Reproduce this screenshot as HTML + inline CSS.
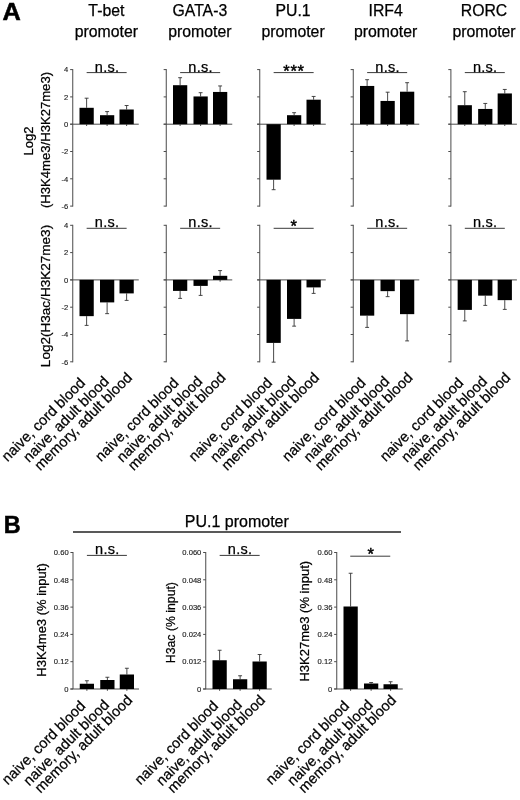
<!DOCTYPE html>
<html><head><meta charset="utf-8"><title>Figure</title>
<style>
html,body{margin:0;padding:0;background:#fff;}
svg{display:block;font-family:'Liberation Sans', sans-serif;}
</style></head>
<body>
<svg width="520" height="800" viewBox="0 0 520 800">
<rect x="0" y="0" width="520" height="800" fill="#ffffff"/>
<text transform="translate(2.60 19.50) scale(1.1 1)" font-size="23" text-anchor="start" font-weight="bold" fill="#000" stroke="#000" stroke-width="0.5">A</text>
<text transform="translate(106.35 16.00)" font-size="15.8" text-anchor="middle" fill="#000" stroke="#000" stroke-width="0.25">T-bet</text>
<text transform="translate(106.35 37.40)" font-size="15.8" text-anchor="middle" fill="#000" stroke="#000" stroke-width="0.25">promoter</text>
<line x1="72.75" y1="69.10" x2="72.75" y2="206.60" stroke="#4a4a4a" stroke-width="1"/>
<line x1="70.15" y1="69.60" x2="72.75" y2="69.60" stroke="#4a4a4a" stroke-width="1"/>
<text transform="translate(68.35 72.30)" font-size="7.6" text-anchor="end" fill="#222" stroke="#222" stroke-width="0.15">4</text>
<line x1="70.15" y1="96.90" x2="72.75" y2="96.90" stroke="#4a4a4a" stroke-width="1"/>
<text transform="translate(68.35 99.60)" font-size="7.6" text-anchor="end" fill="#222" stroke="#222" stroke-width="0.15">2</text>
<line x1="70.15" y1="124.20" x2="72.75" y2="124.20" stroke="#4a4a4a" stroke-width="1"/>
<text transform="translate(68.35 126.90)" font-size="7.6" text-anchor="end" fill="#222" stroke="#222" stroke-width="0.15">0</text>
<line x1="70.15" y1="151.50" x2="72.75" y2="151.50" stroke="#4a4a4a" stroke-width="1"/>
<text transform="translate(68.35 154.20)" font-size="7.6" text-anchor="end" fill="#222" stroke="#222" stroke-width="0.15">-2</text>
<line x1="70.15" y1="178.80" x2="72.75" y2="178.80" stroke="#4a4a4a" stroke-width="1"/>
<text transform="translate(68.35 181.50)" font-size="7.6" text-anchor="end" fill="#222" stroke="#222" stroke-width="0.15">-4</text>
<line x1="70.15" y1="206.10" x2="72.75" y2="206.10" stroke="#4a4a4a" stroke-width="1"/>
<text transform="translate(68.35 208.80)" font-size="7.6" text-anchor="end" fill="#222" stroke="#222" stroke-width="0.15">-6</text>
<line x1="70.15" y1="124.20" x2="138.75" y2="124.20" stroke="#4a4a4a" stroke-width="1"/>
<line x1="86.62" y1="107.80" x2="86.62" y2="98.20" stroke="#333" stroke-width="0.9"/>
<line x1="84.67" y1="98.20" x2="88.58" y2="98.20" stroke="#333" stroke-width="0.9"/>
<rect x="79.50" y="107.80" width="14.25" height="16.40" fill="#000"/>
<line x1="86.62" y1="124.20" x2="86.62" y2="126.00" stroke="#333" stroke-width="0.9"/>
<line x1="107.12" y1="115.20" x2="107.12" y2="111.60" stroke="#333" stroke-width="0.9"/>
<line x1="105.17" y1="111.60" x2="109.08" y2="111.60" stroke="#333" stroke-width="0.9"/>
<rect x="100.00" y="115.20" width="14.25" height="9.00" fill="#000"/>
<line x1="107.12" y1="124.20" x2="107.12" y2="126.00" stroke="#333" stroke-width="0.9"/>
<line x1="126.62" y1="109.50" x2="126.62" y2="105.50" stroke="#333" stroke-width="0.9"/>
<line x1="124.67" y1="105.50" x2="128.57" y2="105.50" stroke="#333" stroke-width="0.9"/>
<rect x="119.50" y="109.50" width="14.25" height="14.70" fill="#000"/>
<line x1="126.62" y1="124.20" x2="126.62" y2="126.00" stroke="#333" stroke-width="0.9"/>
<line x1="86.65" y1="72.60" x2="126.65" y2="72.60" stroke="#3a3a3a" stroke-width="1.0"/>
<text transform="translate(107.05 71.70)" font-size="14.5" text-anchor="middle" fill="#000" stroke="#000" stroke-width="0.25" letter-spacing="0.25">n.s.</text>
<line x1="72.75" y1="224.80" x2="72.75" y2="362.30" stroke="#4a4a4a" stroke-width="1"/>
<line x1="70.15" y1="225.30" x2="72.75" y2="225.30" stroke="#4a4a4a" stroke-width="1"/>
<text transform="translate(68.35 228.00)" font-size="7.6" text-anchor="end" fill="#222" stroke="#222" stroke-width="0.15">4</text>
<line x1="70.15" y1="252.60" x2="72.75" y2="252.60" stroke="#4a4a4a" stroke-width="1"/>
<text transform="translate(68.35 255.30)" font-size="7.6" text-anchor="end" fill="#222" stroke="#222" stroke-width="0.15">2</text>
<line x1="70.15" y1="279.90" x2="72.75" y2="279.90" stroke="#4a4a4a" stroke-width="1"/>
<text transform="translate(68.35 282.60)" font-size="7.6" text-anchor="end" fill="#222" stroke="#222" stroke-width="0.15">0</text>
<line x1="70.15" y1="307.20" x2="72.75" y2="307.20" stroke="#4a4a4a" stroke-width="1"/>
<text transform="translate(68.35 309.90)" font-size="7.6" text-anchor="end" fill="#222" stroke="#222" stroke-width="0.15">-2</text>
<line x1="70.15" y1="334.50" x2="72.75" y2="334.50" stroke="#4a4a4a" stroke-width="1"/>
<text transform="translate(68.35 337.20)" font-size="7.6" text-anchor="end" fill="#222" stroke="#222" stroke-width="0.15">-4</text>
<line x1="70.15" y1="361.80" x2="72.75" y2="361.80" stroke="#4a4a4a" stroke-width="1"/>
<text transform="translate(68.35 364.50)" font-size="7.6" text-anchor="end" fill="#222" stroke="#222" stroke-width="0.15">-6</text>
<line x1="70.15" y1="279.90" x2="138.75" y2="279.90" stroke="#4a4a4a" stroke-width="1"/>
<line x1="86.62" y1="316.15" x2="86.62" y2="325.40" stroke="#333" stroke-width="0.9"/>
<line x1="84.67" y1="325.40" x2="88.58" y2="325.40" stroke="#333" stroke-width="0.9"/>
<rect x="79.50" y="279.90" width="14.25" height="36.25" fill="#000"/>
<line x1="107.12" y1="302.40" x2="107.12" y2="313.65" stroke="#333" stroke-width="0.9"/>
<line x1="105.17" y1="313.65" x2="109.08" y2="313.65" stroke="#333" stroke-width="0.9"/>
<rect x="100.00" y="279.90" width="14.25" height="22.50" fill="#000"/>
<line x1="126.62" y1="293.40" x2="126.62" y2="300.40" stroke="#333" stroke-width="0.9"/>
<line x1="124.67" y1="300.40" x2="128.57" y2="300.40" stroke="#333" stroke-width="0.9"/>
<rect x="119.50" y="279.90" width="14.25" height="13.50" fill="#000"/>
<line x1="86.65" y1="228.30" x2="126.65" y2="228.30" stroke="#3a3a3a" stroke-width="1.0"/>
<text transform="translate(107.05 227.40)" font-size="14.5" text-anchor="middle" fill="#000" stroke="#000" stroke-width="0.25" letter-spacing="0.25">n.s.</text>
<text transform="translate(86.10 383.70) rotate(-45)" font-size="14.6" text-anchor="end" fill="#000" stroke="#000" stroke-width="0.25">naive, cord blood</text>
<text transform="translate(109.80 382.20) rotate(-45)" font-size="14.6" text-anchor="end" fill="#000" stroke="#000" stroke-width="0.25">naive, adult blood</text>
<text transform="translate(133.00 378.60) rotate(-45)" font-size="14.6" text-anchor="end" fill="#000" stroke="#000" stroke-width="0.25">memory, adult blood</text>
<text transform="translate(199.85 16.00)" font-size="15.8" text-anchor="middle" fill="#000" stroke="#000" stroke-width="0.25">GATA-3</text>
<text transform="translate(199.85 37.40)" font-size="15.8" text-anchor="middle" fill="#000" stroke="#000" stroke-width="0.25">promoter</text>
<line x1="166.25" y1="69.10" x2="166.25" y2="206.60" stroke="#4a4a4a" stroke-width="1"/>
<line x1="163.65" y1="69.60" x2="166.25" y2="69.60" stroke="#4a4a4a" stroke-width="1"/>
<line x1="163.65" y1="96.90" x2="166.25" y2="96.90" stroke="#4a4a4a" stroke-width="1"/>
<line x1="163.65" y1="124.20" x2="166.25" y2="124.20" stroke="#4a4a4a" stroke-width="1"/>
<line x1="163.65" y1="151.50" x2="166.25" y2="151.50" stroke="#4a4a4a" stroke-width="1"/>
<line x1="163.65" y1="178.80" x2="166.25" y2="178.80" stroke="#4a4a4a" stroke-width="1"/>
<line x1="163.65" y1="206.10" x2="166.25" y2="206.10" stroke="#4a4a4a" stroke-width="1"/>
<line x1="163.65" y1="124.20" x2="232.25" y2="124.20" stroke="#4a4a4a" stroke-width="1"/>
<line x1="180.12" y1="85.20" x2="180.12" y2="77.70" stroke="#333" stroke-width="0.9"/>
<line x1="178.18" y1="77.70" x2="182.07" y2="77.70" stroke="#333" stroke-width="0.9"/>
<rect x="173.00" y="85.20" width="14.25" height="39.00" fill="#000"/>
<line x1="180.12" y1="124.20" x2="180.12" y2="126.00" stroke="#333" stroke-width="0.9"/>
<line x1="200.62" y1="96.45" x2="200.62" y2="92.70" stroke="#333" stroke-width="0.9"/>
<line x1="198.68" y1="92.70" x2="202.57" y2="92.70" stroke="#333" stroke-width="0.9"/>
<rect x="193.50" y="96.45" width="14.25" height="27.75" fill="#000"/>
<line x1="200.62" y1="124.20" x2="200.62" y2="126.00" stroke="#333" stroke-width="0.9"/>
<line x1="220.12" y1="91.95" x2="220.12" y2="85.95" stroke="#333" stroke-width="0.9"/>
<line x1="218.18" y1="85.95" x2="222.07" y2="85.95" stroke="#333" stroke-width="0.9"/>
<rect x="213.00" y="91.95" width="14.25" height="32.25" fill="#000"/>
<line x1="220.12" y1="124.20" x2="220.12" y2="126.00" stroke="#333" stroke-width="0.9"/>
<line x1="180.15" y1="72.60" x2="220.15" y2="72.60" stroke="#3a3a3a" stroke-width="1.0"/>
<text transform="translate(200.55 71.70)" font-size="14.5" text-anchor="middle" fill="#000" stroke="#000" stroke-width="0.25" letter-spacing="0.25">n.s.</text>
<line x1="166.25" y1="224.80" x2="166.25" y2="362.30" stroke="#4a4a4a" stroke-width="1"/>
<line x1="163.65" y1="225.30" x2="166.25" y2="225.30" stroke="#4a4a4a" stroke-width="1"/>
<line x1="163.65" y1="252.60" x2="166.25" y2="252.60" stroke="#4a4a4a" stroke-width="1"/>
<line x1="163.65" y1="279.90" x2="166.25" y2="279.90" stroke="#4a4a4a" stroke-width="1"/>
<line x1="163.65" y1="307.20" x2="166.25" y2="307.20" stroke="#4a4a4a" stroke-width="1"/>
<line x1="163.65" y1="334.50" x2="166.25" y2="334.50" stroke="#4a4a4a" stroke-width="1"/>
<line x1="163.65" y1="361.80" x2="166.25" y2="361.80" stroke="#4a4a4a" stroke-width="1"/>
<line x1="163.65" y1="279.90" x2="232.25" y2="279.90" stroke="#4a4a4a" stroke-width="1"/>
<line x1="180.12" y1="290.90" x2="180.12" y2="298.40" stroke="#333" stroke-width="0.9"/>
<line x1="178.18" y1="298.40" x2="182.07" y2="298.40" stroke="#333" stroke-width="0.9"/>
<rect x="173.00" y="279.90" width="14.25" height="11.00" fill="#000"/>
<line x1="200.62" y1="285.90" x2="200.62" y2="295.40" stroke="#333" stroke-width="0.9"/>
<line x1="198.68" y1="295.40" x2="202.57" y2="295.40" stroke="#333" stroke-width="0.9"/>
<rect x="193.50" y="279.90" width="14.25" height="6.00" fill="#000"/>
<line x1="220.12" y1="275.80" x2="220.12" y2="270.60" stroke="#333" stroke-width="0.9"/>
<line x1="218.18" y1="270.60" x2="222.07" y2="270.60" stroke="#333" stroke-width="0.9"/>
<rect x="213.00" y="275.80" width="14.25" height="4.10" fill="#000"/>
<line x1="220.12" y1="279.90" x2="220.12" y2="281.70" stroke="#333" stroke-width="0.9"/>
<line x1="180.15" y1="228.30" x2="220.15" y2="228.30" stroke="#3a3a3a" stroke-width="1.0"/>
<text transform="translate(200.55 227.40)" font-size="14.5" text-anchor="middle" fill="#000" stroke="#000" stroke-width="0.25" letter-spacing="0.25">n.s.</text>
<text transform="translate(179.60 383.70) rotate(-45)" font-size="14.6" text-anchor="end" fill="#000" stroke="#000" stroke-width="0.25">naive, cord blood</text>
<text transform="translate(203.30 382.20) rotate(-45)" font-size="14.6" text-anchor="end" fill="#000" stroke="#000" stroke-width="0.25">naive, adult blood</text>
<text transform="translate(226.50 378.60) rotate(-45)" font-size="14.6" text-anchor="end" fill="#000" stroke="#000" stroke-width="0.25">memory, adult blood</text>
<text transform="translate(293.05 16.00)" font-size="15.8" text-anchor="middle" fill="#000" stroke="#000" stroke-width="0.25">PU.1</text>
<text transform="translate(293.05 37.40)" font-size="15.8" text-anchor="middle" fill="#000" stroke="#000" stroke-width="0.25">promoter</text>
<line x1="259.75" y1="69.10" x2="259.75" y2="206.60" stroke="#4a4a4a" stroke-width="1"/>
<line x1="257.15" y1="69.60" x2="259.75" y2="69.60" stroke="#4a4a4a" stroke-width="1"/>
<line x1="257.15" y1="96.90" x2="259.75" y2="96.90" stroke="#4a4a4a" stroke-width="1"/>
<line x1="257.15" y1="124.20" x2="259.75" y2="124.20" stroke="#4a4a4a" stroke-width="1"/>
<line x1="257.15" y1="151.50" x2="259.75" y2="151.50" stroke="#4a4a4a" stroke-width="1"/>
<line x1="257.15" y1="178.80" x2="259.75" y2="178.80" stroke="#4a4a4a" stroke-width="1"/>
<line x1="257.15" y1="206.10" x2="259.75" y2="206.10" stroke="#4a4a4a" stroke-width="1"/>
<line x1="257.15" y1="124.20" x2="325.75" y2="124.20" stroke="#4a4a4a" stroke-width="1"/>
<line x1="273.62" y1="179.70" x2="273.62" y2="189.70" stroke="#333" stroke-width="0.9"/>
<line x1="271.68" y1="189.70" x2="275.57" y2="189.70" stroke="#333" stroke-width="0.9"/>
<rect x="266.50" y="124.20" width="14.25" height="55.50" fill="#000"/>
<line x1="294.12" y1="115.20" x2="294.12" y2="112.70" stroke="#333" stroke-width="0.9"/>
<line x1="292.18" y1="112.70" x2="296.07" y2="112.70" stroke="#333" stroke-width="0.9"/>
<rect x="287.00" y="115.20" width="14.25" height="9.00" fill="#000"/>
<line x1="294.12" y1="124.20" x2="294.12" y2="126.00" stroke="#333" stroke-width="0.9"/>
<line x1="313.62" y1="99.70" x2="313.62" y2="96.45" stroke="#333" stroke-width="0.9"/>
<line x1="311.68" y1="96.45" x2="315.57" y2="96.45" stroke="#333" stroke-width="0.9"/>
<rect x="306.50" y="99.70" width="14.25" height="24.50" fill="#000"/>
<line x1="313.62" y1="124.20" x2="313.62" y2="126.00" stroke="#333" stroke-width="0.9"/>
<line x1="273.65" y1="72.60" x2="313.65" y2="72.60" stroke="#3a3a3a" stroke-width="1.0"/>
<text transform="translate(294.00 76.60)" font-size="16.5" text-anchor="middle" fill="#000" stroke="#000" stroke-width="0.45" letter-spacing="0.7">***</text>
<line x1="259.75" y1="224.80" x2="259.75" y2="362.30" stroke="#4a4a4a" stroke-width="1"/>
<line x1="257.15" y1="225.30" x2="259.75" y2="225.30" stroke="#4a4a4a" stroke-width="1"/>
<line x1="257.15" y1="252.60" x2="259.75" y2="252.60" stroke="#4a4a4a" stroke-width="1"/>
<line x1="257.15" y1="279.90" x2="259.75" y2="279.90" stroke="#4a4a4a" stroke-width="1"/>
<line x1="257.15" y1="307.20" x2="259.75" y2="307.20" stroke="#4a4a4a" stroke-width="1"/>
<line x1="257.15" y1="334.50" x2="259.75" y2="334.50" stroke="#4a4a4a" stroke-width="1"/>
<line x1="257.15" y1="361.80" x2="259.75" y2="361.80" stroke="#4a4a4a" stroke-width="1"/>
<line x1="257.15" y1="279.90" x2="325.75" y2="279.90" stroke="#4a4a4a" stroke-width="1"/>
<line x1="273.62" y1="342.90" x2="273.62" y2="362.15" stroke="#333" stroke-width="0.9"/>
<line x1="271.68" y1="362.15" x2="275.57" y2="362.15" stroke="#333" stroke-width="0.9"/>
<rect x="266.50" y="279.90" width="14.25" height="63.00" fill="#000"/>
<line x1="294.12" y1="318.90" x2="294.12" y2="326.15" stroke="#333" stroke-width="0.9"/>
<line x1="292.18" y1="326.15" x2="296.07" y2="326.15" stroke="#333" stroke-width="0.9"/>
<rect x="287.00" y="279.90" width="14.25" height="39.00" fill="#000"/>
<line x1="313.62" y1="287.40" x2="313.62" y2="293.40" stroke="#333" stroke-width="0.9"/>
<line x1="311.68" y1="293.40" x2="315.57" y2="293.40" stroke="#333" stroke-width="0.9"/>
<rect x="306.50" y="279.90" width="14.25" height="7.50" fill="#000"/>
<line x1="273.65" y1="228.30" x2="313.65" y2="228.30" stroke="#3a3a3a" stroke-width="1.0"/>
<text transform="translate(294.00 232.30)" font-size="16.5" text-anchor="middle" fill="#000" stroke="#000" stroke-width="0.45" letter-spacing="0.7">*</text>
<text transform="translate(273.10 383.70) rotate(-45)" font-size="14.6" text-anchor="end" fill="#000" stroke="#000" stroke-width="0.25">naive, cord blood</text>
<text transform="translate(296.80 382.20) rotate(-45)" font-size="14.6" text-anchor="end" fill="#000" stroke="#000" stroke-width="0.25">naive, adult blood</text>
<text transform="translate(320.00 378.60) rotate(-45)" font-size="14.6" text-anchor="end" fill="#000" stroke="#000" stroke-width="0.25">memory, adult blood</text>
<text transform="translate(385.65 16.00)" font-size="15.8" text-anchor="middle" fill="#000" stroke="#000" stroke-width="0.25">IRF4</text>
<text transform="translate(385.65 37.40)" font-size="15.8" text-anchor="middle" fill="#000" stroke="#000" stroke-width="0.25">promoter</text>
<line x1="353.25" y1="69.10" x2="353.25" y2="206.60" stroke="#4a4a4a" stroke-width="1"/>
<line x1="350.65" y1="69.60" x2="353.25" y2="69.60" stroke="#4a4a4a" stroke-width="1"/>
<line x1="350.65" y1="96.90" x2="353.25" y2="96.90" stroke="#4a4a4a" stroke-width="1"/>
<line x1="350.65" y1="124.20" x2="353.25" y2="124.20" stroke="#4a4a4a" stroke-width="1"/>
<line x1="350.65" y1="151.50" x2="353.25" y2="151.50" stroke="#4a4a4a" stroke-width="1"/>
<line x1="350.65" y1="178.80" x2="353.25" y2="178.80" stroke="#4a4a4a" stroke-width="1"/>
<line x1="350.65" y1="206.10" x2="353.25" y2="206.10" stroke="#4a4a4a" stroke-width="1"/>
<line x1="350.65" y1="124.20" x2="419.25" y2="124.20" stroke="#4a4a4a" stroke-width="1"/>
<line x1="367.12" y1="85.95" x2="367.12" y2="79.70" stroke="#333" stroke-width="0.9"/>
<line x1="365.18" y1="79.70" x2="369.07" y2="79.70" stroke="#333" stroke-width="0.9"/>
<rect x="360.00" y="85.95" width="14.25" height="38.25" fill="#000"/>
<line x1="367.12" y1="124.20" x2="367.12" y2="126.00" stroke="#333" stroke-width="0.9"/>
<line x1="387.62" y1="100.95" x2="387.62" y2="92.20" stroke="#333" stroke-width="0.9"/>
<line x1="385.68" y1="92.20" x2="389.57" y2="92.20" stroke="#333" stroke-width="0.9"/>
<rect x="380.50" y="100.95" width="14.25" height="23.25" fill="#000"/>
<line x1="387.62" y1="124.20" x2="387.62" y2="126.00" stroke="#333" stroke-width="0.9"/>
<line x1="407.12" y1="91.70" x2="407.12" y2="82.70" stroke="#333" stroke-width="0.9"/>
<line x1="405.18" y1="82.70" x2="409.07" y2="82.70" stroke="#333" stroke-width="0.9"/>
<rect x="400.00" y="91.70" width="14.25" height="32.50" fill="#000"/>
<line x1="407.12" y1="124.20" x2="407.12" y2="126.00" stroke="#333" stroke-width="0.9"/>
<line x1="367.15" y1="72.60" x2="407.15" y2="72.60" stroke="#3a3a3a" stroke-width="1.0"/>
<text transform="translate(387.55 71.70)" font-size="14.5" text-anchor="middle" fill="#000" stroke="#000" stroke-width="0.25" letter-spacing="0.25">n.s.</text>
<line x1="353.25" y1="224.80" x2="353.25" y2="362.30" stroke="#4a4a4a" stroke-width="1"/>
<line x1="350.65" y1="225.30" x2="353.25" y2="225.30" stroke="#4a4a4a" stroke-width="1"/>
<line x1="350.65" y1="252.60" x2="353.25" y2="252.60" stroke="#4a4a4a" stroke-width="1"/>
<line x1="350.65" y1="279.90" x2="353.25" y2="279.90" stroke="#4a4a4a" stroke-width="1"/>
<line x1="350.65" y1="307.20" x2="353.25" y2="307.20" stroke="#4a4a4a" stroke-width="1"/>
<line x1="350.65" y1="334.50" x2="353.25" y2="334.50" stroke="#4a4a4a" stroke-width="1"/>
<line x1="350.65" y1="361.80" x2="353.25" y2="361.80" stroke="#4a4a4a" stroke-width="1"/>
<line x1="350.65" y1="279.90" x2="419.25" y2="279.90" stroke="#4a4a4a" stroke-width="1"/>
<line x1="367.12" y1="315.65" x2="367.12" y2="327.40" stroke="#333" stroke-width="0.9"/>
<line x1="365.18" y1="327.40" x2="369.07" y2="327.40" stroke="#333" stroke-width="0.9"/>
<rect x="360.00" y="279.90" width="14.25" height="35.75" fill="#000"/>
<line x1="387.62" y1="291.15" x2="387.62" y2="296.65" stroke="#333" stroke-width="0.9"/>
<line x1="385.68" y1="296.65" x2="389.57" y2="296.65" stroke="#333" stroke-width="0.9"/>
<rect x="380.50" y="279.90" width="14.25" height="11.25" fill="#000"/>
<line x1="407.12" y1="314.15" x2="407.12" y2="340.90" stroke="#333" stroke-width="0.9"/>
<line x1="405.18" y1="340.90" x2="409.07" y2="340.90" stroke="#333" stroke-width="0.9"/>
<rect x="400.00" y="279.90" width="14.25" height="34.25" fill="#000"/>
<line x1="367.15" y1="228.30" x2="407.15" y2="228.30" stroke="#3a3a3a" stroke-width="1.0"/>
<text transform="translate(387.55 227.40)" font-size="14.5" text-anchor="middle" fill="#000" stroke="#000" stroke-width="0.25" letter-spacing="0.25">n.s.</text>
<text transform="translate(366.60 383.70) rotate(-45)" font-size="14.6" text-anchor="end" fill="#000" stroke="#000" stroke-width="0.25">naive, cord blood</text>
<text transform="translate(390.30 382.20) rotate(-45)" font-size="14.6" text-anchor="end" fill="#000" stroke="#000" stroke-width="0.25">naive, adult blood</text>
<text transform="translate(413.50 378.60) rotate(-45)" font-size="14.6" text-anchor="end" fill="#000" stroke="#000" stroke-width="0.25">memory, adult blood</text>
<text transform="translate(484.00 16.00)" font-size="15.8" text-anchor="middle" fill="#000" stroke="#000" stroke-width="0.25">RORC</text>
<text transform="translate(484.00 37.40)" font-size="15.8" text-anchor="middle" fill="#000" stroke="#000" stroke-width="0.25">promoter</text>
<line x1="450.90" y1="69.10" x2="450.90" y2="206.60" stroke="#4a4a4a" stroke-width="1"/>
<line x1="448.30" y1="69.60" x2="450.90" y2="69.60" stroke="#4a4a4a" stroke-width="1"/>
<line x1="448.30" y1="96.90" x2="450.90" y2="96.90" stroke="#4a4a4a" stroke-width="1"/>
<line x1="448.30" y1="124.20" x2="450.90" y2="124.20" stroke="#4a4a4a" stroke-width="1"/>
<line x1="448.30" y1="151.50" x2="450.90" y2="151.50" stroke="#4a4a4a" stroke-width="1"/>
<line x1="448.30" y1="178.80" x2="450.90" y2="178.80" stroke="#4a4a4a" stroke-width="1"/>
<line x1="448.30" y1="206.10" x2="450.90" y2="206.10" stroke="#4a4a4a" stroke-width="1"/>
<line x1="448.30" y1="124.20" x2="516.90" y2="124.20" stroke="#4a4a4a" stroke-width="1"/>
<line x1="464.77" y1="105.20" x2="464.77" y2="91.70" stroke="#333" stroke-width="0.9"/>
<line x1="462.82" y1="91.70" x2="466.72" y2="91.70" stroke="#333" stroke-width="0.9"/>
<rect x="457.65" y="105.20" width="14.25" height="19.00" fill="#000"/>
<line x1="464.77" y1="124.20" x2="464.77" y2="126.00" stroke="#333" stroke-width="0.9"/>
<line x1="485.27" y1="108.95" x2="485.27" y2="103.45" stroke="#333" stroke-width="0.9"/>
<line x1="483.32" y1="103.45" x2="487.22" y2="103.45" stroke="#333" stroke-width="0.9"/>
<rect x="478.15" y="108.95" width="14.25" height="15.25" fill="#000"/>
<line x1="485.27" y1="124.20" x2="485.27" y2="126.00" stroke="#333" stroke-width="0.9"/>
<line x1="504.77" y1="93.45" x2="504.77" y2="89.45" stroke="#333" stroke-width="0.9"/>
<line x1="502.82" y1="89.45" x2="506.72" y2="89.45" stroke="#333" stroke-width="0.9"/>
<rect x="497.65" y="93.45" width="14.25" height="30.75" fill="#000"/>
<line x1="504.77" y1="124.20" x2="504.77" y2="126.00" stroke="#333" stroke-width="0.9"/>
<line x1="464.80" y1="72.60" x2="504.80" y2="72.60" stroke="#3a3a3a" stroke-width="1.0"/>
<text transform="translate(485.20 71.70)" font-size="14.5" text-anchor="middle" fill="#000" stroke="#000" stroke-width="0.25" letter-spacing="0.25">n.s.</text>
<line x1="450.90" y1="224.80" x2="450.90" y2="362.30" stroke="#4a4a4a" stroke-width="1"/>
<line x1="448.30" y1="225.30" x2="450.90" y2="225.30" stroke="#4a4a4a" stroke-width="1"/>
<line x1="448.30" y1="252.60" x2="450.90" y2="252.60" stroke="#4a4a4a" stroke-width="1"/>
<line x1="448.30" y1="279.90" x2="450.90" y2="279.90" stroke="#4a4a4a" stroke-width="1"/>
<line x1="448.30" y1="307.20" x2="450.90" y2="307.20" stroke="#4a4a4a" stroke-width="1"/>
<line x1="448.30" y1="334.50" x2="450.90" y2="334.50" stroke="#4a4a4a" stroke-width="1"/>
<line x1="448.30" y1="361.80" x2="450.90" y2="361.80" stroke="#4a4a4a" stroke-width="1"/>
<line x1="448.30" y1="279.90" x2="516.90" y2="279.90" stroke="#4a4a4a" stroke-width="1"/>
<line x1="464.77" y1="309.90" x2="464.77" y2="320.90" stroke="#333" stroke-width="0.9"/>
<line x1="462.82" y1="320.90" x2="466.72" y2="320.90" stroke="#333" stroke-width="0.9"/>
<rect x="457.65" y="279.90" width="14.25" height="30.00" fill="#000"/>
<line x1="485.27" y1="295.65" x2="485.27" y2="305.40" stroke="#333" stroke-width="0.9"/>
<line x1="483.32" y1="305.40" x2="487.22" y2="305.40" stroke="#333" stroke-width="0.9"/>
<rect x="478.15" y="279.90" width="14.25" height="15.75" fill="#000"/>
<line x1="504.77" y1="300.15" x2="504.77" y2="309.40" stroke="#333" stroke-width="0.9"/>
<line x1="502.82" y1="309.40" x2="506.72" y2="309.40" stroke="#333" stroke-width="0.9"/>
<rect x="497.65" y="279.90" width="14.25" height="20.25" fill="#000"/>
<line x1="464.80" y1="228.30" x2="504.80" y2="228.30" stroke="#3a3a3a" stroke-width="1.0"/>
<text transform="translate(485.20 227.40)" font-size="14.5" text-anchor="middle" fill="#000" stroke="#000" stroke-width="0.25" letter-spacing="0.25">n.s.</text>
<text transform="translate(464.25 383.70) rotate(-45)" font-size="14.6" text-anchor="end" fill="#000" stroke="#000" stroke-width="0.25">naive, cord blood</text>
<text transform="translate(487.95 382.20) rotate(-45)" font-size="14.6" text-anchor="end" fill="#000" stroke="#000" stroke-width="0.25">naive, adult blood</text>
<text transform="translate(511.15 378.60) rotate(-45)" font-size="14.6" text-anchor="end" fill="#000" stroke="#000" stroke-width="0.25">memory, adult blood</text>
<text transform="translate(32.70 141.00) rotate(-90)" font-size="13.1" text-anchor="middle" fill="#000" stroke="#000" stroke-width="0.25">Log2</text>
<text transform="translate(49.70 140.00) rotate(-90)" font-size="13.1" text-anchor="middle" fill="#000" stroke="#000" stroke-width="0.25">(H3K4me3/H3K27me3)</text>
<text transform="translate(50.20 296.00) rotate(-90)" font-size="13.55" text-anchor="middle" fill="#000" stroke="#000" stroke-width="0.25">Log2(H3ac/H3K27me3)</text>
<text transform="translate(3.70 533.20) scale(1.02 1)" font-size="23" text-anchor="start" font-weight="bold" fill="#000" stroke="#000" stroke-width="0.5">B</text>
<text transform="translate(236.80 527.30)" font-size="16" text-anchor="middle" fill="#000" stroke="#000" stroke-width="0.25">PU.1 promoter</text>
<line x1="73.00" y1="532.00" x2="401.00" y2="532.00" stroke="#222" stroke-width="1.6"/>
<line x1="73.00" y1="552.00" x2="73.00" y2="689.00" stroke="#4a4a4a" stroke-width="1"/>
<line x1="70.40" y1="552.50" x2="73.00" y2="552.50" stroke="#4a4a4a" stroke-width="1"/>
<text transform="translate(68.60 555.20)" font-size="7.6" text-anchor="end" fill="#222" stroke="#222" stroke-width="0.15">0.60</text>
<line x1="70.40" y1="579.80" x2="73.00" y2="579.80" stroke="#4a4a4a" stroke-width="1"/>
<text transform="translate(68.60 582.50)" font-size="7.6" text-anchor="end" fill="#222" stroke="#222" stroke-width="0.15">0.48</text>
<line x1="70.40" y1="607.10" x2="73.00" y2="607.10" stroke="#4a4a4a" stroke-width="1"/>
<text transform="translate(68.60 609.80)" font-size="7.6" text-anchor="end" fill="#222" stroke="#222" stroke-width="0.15">0.36</text>
<line x1="70.40" y1="634.40" x2="73.00" y2="634.40" stroke="#4a4a4a" stroke-width="1"/>
<text transform="translate(68.60 637.10)" font-size="7.6" text-anchor="end" fill="#222" stroke="#222" stroke-width="0.15">0.24</text>
<line x1="70.40" y1="661.70" x2="73.00" y2="661.70" stroke="#4a4a4a" stroke-width="1"/>
<text transform="translate(68.60 664.40)" font-size="7.6" text-anchor="end" fill="#222" stroke="#222" stroke-width="0.15">0.12</text>
<line x1="70.40" y1="689.00" x2="73.00" y2="689.00" stroke="#4a4a4a" stroke-width="1"/>
<text transform="translate(68.60 691.70)" font-size="7.6" text-anchor="end" fill="#222" stroke="#222" stroke-width="0.15">0</text>
<line x1="70.40" y1="689.00" x2="139.00" y2="689.00" stroke="#4a4a4a" stroke-width="1"/>
<line x1="86.88" y1="683.75" x2="86.88" y2="680.75" stroke="#333" stroke-width="0.9"/>
<line x1="84.92" y1="680.75" x2="88.83" y2="680.75" stroke="#333" stroke-width="0.9"/>
<rect x="79.75" y="683.75" width="14.25" height="5.25" fill="#000"/>
<line x1="86.88" y1="689.00" x2="86.88" y2="690.80" stroke="#333" stroke-width="0.9"/>
<line x1="107.38" y1="680.00" x2="107.38" y2="677.25" stroke="#333" stroke-width="0.9"/>
<line x1="105.42" y1="677.25" x2="109.33" y2="677.25" stroke="#333" stroke-width="0.9"/>
<rect x="100.25" y="680.00" width="14.25" height="9.00" fill="#000"/>
<line x1="107.38" y1="689.00" x2="107.38" y2="690.80" stroke="#333" stroke-width="0.9"/>
<line x1="126.88" y1="674.50" x2="126.88" y2="668.25" stroke="#333" stroke-width="0.9"/>
<line x1="124.92" y1="668.25" x2="128.82" y2="668.25" stroke="#333" stroke-width="0.9"/>
<rect x="119.75" y="674.50" width="14.25" height="14.50" fill="#000"/>
<line x1="126.88" y1="689.00" x2="126.88" y2="690.80" stroke="#333" stroke-width="0.9"/>
<line x1="86.90" y1="555.40" x2="126.90" y2="555.40" stroke="#3a3a3a" stroke-width="1.0"/>
<text transform="translate(107.30 553.90)" font-size="14.5" text-anchor="middle" fill="#000" stroke="#000" stroke-width="0.25" letter-spacing="0.25">n.s.</text>
<text transform="translate(86.35 706.80) rotate(-45)" font-size="14.6" text-anchor="end" fill="#000" stroke="#000" stroke-width="0.25">naive, cord blood</text>
<text transform="translate(110.05 705.70) rotate(-45)" font-size="14.6" text-anchor="end" fill="#000" stroke="#000" stroke-width="0.25">naive, adult blood</text>
<text transform="translate(133.25 700.90) rotate(-45)" font-size="14.6" text-anchor="end" fill="#000" stroke="#000" stroke-width="0.25">memory, adult blood</text>
<text transform="translate(46.40 620.00) rotate(-90)" font-size="13" text-anchor="middle" fill="#000" stroke="#000" stroke-width="0.25">H3K4me3 (% input)</text>
<line x1="205.75" y1="552.00" x2="205.75" y2="689.00" stroke="#4a4a4a" stroke-width="1"/>
<line x1="203.15" y1="552.50" x2="205.75" y2="552.50" stroke="#4a4a4a" stroke-width="1"/>
<text transform="translate(201.35 555.20)" font-size="7.6" text-anchor="end" fill="#222" stroke="#222" stroke-width="0.15">0.060</text>
<line x1="203.15" y1="579.80" x2="205.75" y2="579.80" stroke="#4a4a4a" stroke-width="1"/>
<text transform="translate(201.35 582.50)" font-size="7.6" text-anchor="end" fill="#222" stroke="#222" stroke-width="0.15">0.048</text>
<line x1="203.15" y1="607.10" x2="205.75" y2="607.10" stroke="#4a4a4a" stroke-width="1"/>
<text transform="translate(201.35 609.80)" font-size="7.6" text-anchor="end" fill="#222" stroke="#222" stroke-width="0.15">0.036</text>
<line x1="203.15" y1="634.40" x2="205.75" y2="634.40" stroke="#4a4a4a" stroke-width="1"/>
<text transform="translate(201.35 637.10)" font-size="7.6" text-anchor="end" fill="#222" stroke="#222" stroke-width="0.15">0.024</text>
<line x1="203.15" y1="661.70" x2="205.75" y2="661.70" stroke="#4a4a4a" stroke-width="1"/>
<text transform="translate(201.35 664.40)" font-size="7.6" text-anchor="end" fill="#222" stroke="#222" stroke-width="0.15">0.012</text>
<line x1="203.15" y1="689.00" x2="205.75" y2="689.00" stroke="#4a4a4a" stroke-width="1"/>
<text transform="translate(201.35 691.70)" font-size="7.6" text-anchor="end" fill="#222" stroke="#222" stroke-width="0.15">0</text>
<line x1="203.15" y1="689.00" x2="271.75" y2="689.00" stroke="#4a4a4a" stroke-width="1"/>
<line x1="219.62" y1="660.25" x2="219.62" y2="650.25" stroke="#333" stroke-width="0.9"/>
<line x1="217.68" y1="650.25" x2="221.57" y2="650.25" stroke="#333" stroke-width="0.9"/>
<rect x="212.50" y="660.25" width="14.25" height="28.75" fill="#000"/>
<line x1="219.62" y1="689.00" x2="219.62" y2="690.80" stroke="#333" stroke-width="0.9"/>
<line x1="240.12" y1="679.25" x2="240.12" y2="675.75" stroke="#333" stroke-width="0.9"/>
<line x1="238.18" y1="675.75" x2="242.07" y2="675.75" stroke="#333" stroke-width="0.9"/>
<rect x="233.00" y="679.25" width="14.25" height="9.75" fill="#000"/>
<line x1="240.12" y1="689.00" x2="240.12" y2="690.80" stroke="#333" stroke-width="0.9"/>
<line x1="259.62" y1="661.50" x2="259.62" y2="654.50" stroke="#333" stroke-width="0.9"/>
<line x1="257.68" y1="654.50" x2="261.57" y2="654.50" stroke="#333" stroke-width="0.9"/>
<rect x="252.50" y="661.50" width="14.25" height="27.50" fill="#000"/>
<line x1="259.62" y1="689.00" x2="259.62" y2="690.80" stroke="#333" stroke-width="0.9"/>
<line x1="219.65" y1="555.40" x2="259.65" y2="555.40" stroke="#3a3a3a" stroke-width="1.0"/>
<text transform="translate(240.05 553.90)" font-size="14.5" text-anchor="middle" fill="#000" stroke="#000" stroke-width="0.25" letter-spacing="0.25">n.s.</text>
<text transform="translate(219.10 706.80) rotate(-45)" font-size="14.6" text-anchor="end" fill="#000" stroke="#000" stroke-width="0.25">naive, cord blood</text>
<text transform="translate(242.80 705.70) rotate(-45)" font-size="14.6" text-anchor="end" fill="#000" stroke="#000" stroke-width="0.25">naive, adult blood</text>
<text transform="translate(266.00 700.90) rotate(-45)" font-size="14.6" text-anchor="end" fill="#000" stroke="#000" stroke-width="0.25">memory, adult blood</text>
<text transform="translate(174.50 622.60) rotate(-90) scale(0.945 1)" font-size="13" text-anchor="middle" fill="#000" stroke="#000" stroke-width="0.25">H3ac (% input)</text>
<line x1="336.75" y1="552.00" x2="336.75" y2="689.00" stroke="#4a4a4a" stroke-width="1"/>
<line x1="334.15" y1="552.50" x2="336.75" y2="552.50" stroke="#4a4a4a" stroke-width="1"/>
<text transform="translate(332.35 555.20)" font-size="7.6" text-anchor="end" fill="#222" stroke="#222" stroke-width="0.15">0.60</text>
<line x1="334.15" y1="579.80" x2="336.75" y2="579.80" stroke="#4a4a4a" stroke-width="1"/>
<text transform="translate(332.35 582.50)" font-size="7.6" text-anchor="end" fill="#222" stroke="#222" stroke-width="0.15">0.48</text>
<line x1="334.15" y1="607.10" x2="336.75" y2="607.10" stroke="#4a4a4a" stroke-width="1"/>
<text transform="translate(332.35 609.80)" font-size="7.6" text-anchor="end" fill="#222" stroke="#222" stroke-width="0.15">0.36</text>
<line x1="334.15" y1="634.40" x2="336.75" y2="634.40" stroke="#4a4a4a" stroke-width="1"/>
<text transform="translate(332.35 637.10)" font-size="7.6" text-anchor="end" fill="#222" stroke="#222" stroke-width="0.15">0.24</text>
<line x1="334.15" y1="661.70" x2="336.75" y2="661.70" stroke="#4a4a4a" stroke-width="1"/>
<text transform="translate(332.35 664.40)" font-size="7.6" text-anchor="end" fill="#222" stroke="#222" stroke-width="0.15">0.12</text>
<line x1="334.15" y1="689.00" x2="336.75" y2="689.00" stroke="#4a4a4a" stroke-width="1"/>
<text transform="translate(332.35 691.70)" font-size="7.6" text-anchor="end" fill="#222" stroke="#222" stroke-width="0.15">0</text>
<line x1="334.15" y1="689.00" x2="402.75" y2="689.00" stroke="#4a4a4a" stroke-width="1"/>
<line x1="350.62" y1="606.50" x2="350.62" y2="573.25" stroke="#333" stroke-width="0.9"/>
<line x1="348.68" y1="573.25" x2="352.57" y2="573.25" stroke="#333" stroke-width="0.9"/>
<rect x="343.50" y="606.50" width="14.25" height="82.50" fill="#000"/>
<line x1="350.62" y1="689.00" x2="350.62" y2="690.80" stroke="#333" stroke-width="0.9"/>
<line x1="371.12" y1="683.50" x2="371.12" y2="682.50" stroke="#333" stroke-width="0.9"/>
<line x1="369.18" y1="682.50" x2="373.07" y2="682.50" stroke="#333" stroke-width="0.9"/>
<rect x="364.00" y="683.50" width="14.25" height="5.50" fill="#000"/>
<line x1="371.12" y1="689.00" x2="371.12" y2="690.80" stroke="#333" stroke-width="0.9"/>
<line x1="390.62" y1="684.25" x2="390.62" y2="681.75" stroke="#333" stroke-width="0.9"/>
<line x1="388.68" y1="681.75" x2="392.57" y2="681.75" stroke="#333" stroke-width="0.9"/>
<rect x="383.50" y="684.25" width="14.25" height="4.75" fill="#000"/>
<line x1="390.62" y1="689.00" x2="390.62" y2="690.80" stroke="#333" stroke-width="0.9"/>
<line x1="350.25" y1="556.20" x2="390.25" y2="556.20" stroke="#3a3a3a" stroke-width="1.0"/>
<text transform="translate(371.00 560.20)" font-size="16.5" text-anchor="middle" fill="#000" stroke="#000" stroke-width="0.45" letter-spacing="0.7">*</text>
<text transform="translate(350.10 706.80) rotate(-45)" font-size="14.6" text-anchor="end" fill="#000" stroke="#000" stroke-width="0.25">naive, cord blood</text>
<text transform="translate(373.80 705.70) rotate(-45)" font-size="14.6" text-anchor="end" fill="#000" stroke="#000" stroke-width="0.25">naive, adult blood</text>
<text transform="translate(397.00 700.90) rotate(-45)" font-size="14.6" text-anchor="end" fill="#000" stroke="#000" stroke-width="0.25">memory, adult blood</text>
<text transform="translate(308.75 621.20) rotate(-90)" font-size="13" text-anchor="middle" fill="#000" stroke="#000" stroke-width="0.25">H3K27me3 (% input)</text>
</svg>
</body></html>
